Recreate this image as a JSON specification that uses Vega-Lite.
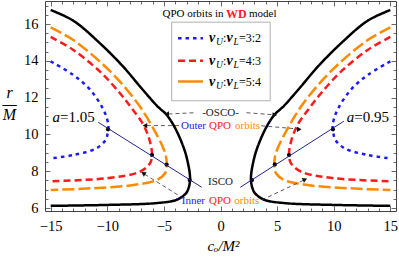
{
 "$schema": "https://vega.github.io/schema/vega-lite/v6.json",
 "width": 351, "height": 210,
 "autosize": {"type": "none"},
 "padding": {"left": 45, "top": 1, "right": 3, "bottom": 48},
 "background": "white",
 "config": {"view": {"stroke": "#444", "strokeWidth": 1}, "font": "Liberation Serif", "axis": {"labelFont": "Liberation Serif", "titleFont": "Liberation Serif"}},
 "datasets": {
  "curves": [
   {"c":"b","s":"L","i":0,"x":-15,"y":16.76},{"c":"b","s":"L","i":1,"x":-13,"y":16.18},{"c":"b","s":"L","i":2,"x":-10.64,"y":14.95},{"c":"b","s":"L","i":3,"x":-8.59,"y":13.68},{"c":"b","s":"L","i":4,"x":-7.1,"y":12.6},{"c":"b","s":"L","i":5,"x":-5.6,"y":11.55},{"c":"b","s":"L","i":6,"x":-4.75,"y":11.06},{"c":"b","s":"L","i":7,"x":-4.1,"y":10.45},{"c":"b","s":"L","i":8,"x":-3.58,"y":9.79},{"c":"b","s":"L","i":9,"x":-3.1,"y":9.0},{"c":"b","s":"L","i":10,"x":-2.84,"y":8.34},{"c":"b","s":"L","i":11,"x":-2.72,"y":7.9},{"c":"b","s":"L","i":12,"x":-2.69,"y":7.52},{"c":"b","s":"L","i":13,"x":-2.8,"y":7.12},{"c":"b","s":"L","i":14,"x":-3.05,"y":6.8},{"c":"b","s":"L","i":15,"x":-3.87,"y":6.45},{"c":"b","s":"L","i":16,"x":-5.64,"y":6.27},{"c":"b","s":"L","i":17,"x":-10.05,"y":6.17},{"c":"b","s":"L","i":18,"x":-15,"y":6.12},
   {"c":"b","s":"R","i":0,"x":15,"y":16.76},{"c":"b","s":"R","i":1,"x":13,"y":16.18},{"c":"b","s":"R","i":2,"x":10.64,"y":14.95},{"c":"b","s":"R","i":3,"x":8.59,"y":13.68},{"c":"b","s":"R","i":4,"x":7.1,"y":12.6},{"c":"b","s":"R","i":5,"x":5.6,"y":11.55},{"c":"b","s":"R","i":6,"x":4.75,"y":11.06},{"c":"b","s":"R","i":7,"x":4.1,"y":10.45},{"c":"b","s":"R","i":8,"x":3.58,"y":9.79},{"c":"b","s":"R","i":9,"x":3.1,"y":9.0},{"c":"b","s":"R","i":10,"x":2.84,"y":8.34},{"c":"b","s":"R","i":11,"x":2.72,"y":7.9},{"c":"b","s":"R","i":12,"x":2.69,"y":7.52},{"c":"b","s":"R","i":13,"x":2.8,"y":7.12},{"c":"b","s":"R","i":14,"x":3.05,"y":6.8},{"c":"b","s":"R","i":15,"x":3.87,"y":6.45},{"c":"b","s":"R","i":16,"x":5.64,"y":6.27},{"c":"b","s":"R","i":17,"x":10.05,"y":6.17},{"c":"b","s":"R","i":18,"x":15,"y":6.12},
   {"c":"54","s":"L","i":0,"x":-15,"y":15.82},{"c":"54","s":"L","i":1,"x":-13,"y":15.13},{"c":"54","s":"L","i":2,"x":-10.64,"y":13.95},{"c":"54","s":"L","i":3,"x":-8.88,"y":12.87},{"c":"54","s":"L","i":4,"x":-7.1,"y":11.5},{"c":"54","s":"L","i":5,"x":-5.94,"y":10.33},{"c":"54","s":"L","i":6,"x":-5.05,"y":9.25},{"c":"54","s":"L","i":7,"x":-4.8,"y":8.75},{"c":"54","s":"L","i":8,"x":-4.75,"y":8.34},{"c":"54","s":"L","i":9,"x":-4.9,"y":7.89},{"c":"54","s":"L","i":10,"x":-5.64,"y":7.52},{"c":"54","s":"L","i":11,"x":-7.7,"y":7.25},{"c":"54","s":"L","i":12,"x":-11.5,"y":7.07},{"c":"54","s":"L","i":13,"x":-15,"y":6.98},
   {"c":"54","s":"R","i":0,"x":15,"y":15.82},{"c":"54","s":"R","i":1,"x":13,"y":15.13},{"c":"54","s":"R","i":2,"x":10.64,"y":13.95},{"c":"54","s":"R","i":3,"x":8.88,"y":12.87},{"c":"54","s":"R","i":4,"x":7.1,"y":11.5},{"c":"54","s":"R","i":5,"x":5.94,"y":10.33},{"c":"54","s":"R","i":6,"x":5.05,"y":9.25},{"c":"54","s":"R","i":7,"x":4.8,"y":8.75},{"c":"54","s":"R","i":8,"x":4.75,"y":8.34},{"c":"54","s":"R","i":9,"x":4.9,"y":7.89},{"c":"54","s":"R","i":10,"x":5.64,"y":7.52},{"c":"54","s":"R","i":11,"x":7.7,"y":7.25},{"c":"54","s":"R","i":12,"x":11.5,"y":7.07},{"c":"54","s":"R","i":13,"x":15,"y":6.98},
   {"c":"43","s":"L","i":0,"x":-15,"y":15.3},{"c":"43","s":"L","i":1,"x":-13,"y":14.59},{"c":"43","s":"L","i":2,"x":-10.64,"y":13.41},{"c":"43","s":"L","i":3,"x":-8.88,"y":12.24},{"c":"43","s":"L","i":4,"x":-7.84,"y":11.42},{"c":"43","s":"L","i":5,"x":-6.8,"y":10.51},{"c":"43","s":"L","i":6,"x":-6.23,"y":9.61},{"c":"43","s":"L","i":7,"x":-6.05,"y":8.88},{"c":"43","s":"L","i":8,"x":-6.23,"y":8.43},{"c":"43","s":"L","i":9,"x":-7.1,"y":7.98},{"c":"43","s":"L","i":10,"x":-10.05,"y":7.62},{"c":"43","s":"L","i":11,"x":-15,"y":7.46},
   {"c":"43","s":"R","i":0,"x":15,"y":15.3},{"c":"43","s":"R","i":1,"x":13,"y":14.59},{"c":"43","s":"R","i":2,"x":10.64,"y":13.41},{"c":"43","s":"R","i":3,"x":8.88,"y":12.24},{"c":"43","s":"R","i":4,"x":7.84,"y":11.42},{"c":"43","s":"R","i":5,"x":6.8,"y":10.51},{"c":"43","s":"R","i":6,"x":6.23,"y":9.61},{"c":"43","s":"R","i":7,"x":6.05,"y":8.88},{"c":"43","s":"R","i":8,"x":6.23,"y":8.43},{"c":"43","s":"R","i":9,"x":7.1,"y":7.98},{"c":"43","s":"R","i":10,"x":10.05,"y":7.62},{"c":"43","s":"R","i":11,"x":15,"y":7.46},
   {"c":"32","s":"L","i":0,"x":-15,"y":13.97},{"c":"32","s":"L","i":1,"x":-13,"y":13.23},{"c":"32","s":"L","i":2,"x":-11.5,"y":12.42},{"c":"32","s":"L","i":3,"x":-10.4,"y":11.42},{"c":"32","s":"L","i":4,"x":-10.0,"y":10.8},{"c":"32","s":"L","i":5,"x":-9.9,"y":10.4},{"c":"32","s":"L","i":6,"x":-9.97,"y":10.05},{"c":"32","s":"L","i":7,"x":-10.15,"y":9.7},{"c":"32","s":"L","i":8,"x":-10.94,"y":9.25},{"c":"32","s":"L","i":9,"x":-13,"y":8.88},{"c":"32","s":"L","i":10,"x":-15,"y":8.7},
   {"c":"32","s":"R","i":0,"x":15,"y":13.97},{"c":"32","s":"R","i":1,"x":13,"y":13.23},{"c":"32","s":"R","i":2,"x":11.5,"y":12.42},{"c":"32","s":"R","i":3,"x":10.4,"y":11.42},{"c":"32","s":"R","i":4,"x":10.0,"y":10.8},{"c":"32","s":"R","i":5,"x":9.9,"y":10.4},{"c":"32","s":"R","i":6,"x":9.97,"y":10.05},{"c":"32","s":"R","i":7,"x":10.15,"y":9.7},{"c":"32","s":"R","i":8,"x":10.94,"y":9.25},{"c":"32","s":"R","i":9,"x":13,"y":8.88},{"c":"32","s":"R","i":10,"x":15,"y":8.7}
  ],
  "alines": [{"s":"L","x":-10.8,"y":10.66},{"s":"L","x":-1.66,"y":7.13},{"s":"R","x":1.75,"y":7.13},{"s":"R","x":10.9,"y":10.72}],
  "dots": [{"x":-9.93,"y":10.28},{"x":-6.05,"y":8.88},{"x":-4.76,"y":8.36},{"x":-2.72,"y":7.52},{"x":9.93,"y":10.28},{"x":6.05,"y":8.88},{"x":4.8,"y":8.37},{"x":2.78,"y":7.52}],
  "arrows": [
   {"a":"oL","x":-2.3,"y":11.18},{"a":"oL","x":-4.6,"y":11.11},
   {"a":"oR","x":2.3,"y":11.18},{"a":"oR","x":4.65,"y":11.07},
   {"a":"uL","x":-3.55,"y":10.48},{"a":"uL","x":-6.5,"y":10.48},
   {"a":"uR","x":3.6,"y":10.47},{"a":"uR","x":6.8,"y":10.3},
   {"a":"iL","x":-3.29,"y":6.53},{"a":"iL","x":-6.7,"y":7.84},
   {"a":"iR","x":3.64,"y":6.44},{"a":"iR","x":7.3,"y":7.5}
  ],
  "headsL": [{"x":-4.75,"y":11.11},{"x":-6.67,"y":10.48}],
  "headsR": [{"x":4.8,"y":11.06},{"x":6.96,"y":10.28}],
  "headIL": [{"x":-6.82,"y":7.89}],
  "headIR": [{"x":7.46,"y":7.56}],
  "box": [{"x":-4.31,"x2":4.39,"y":16.1,"y2":11.83}],
  "legend": [{"r":"L32","y":15.23,"lab":"=3:2"},{"r":"L43","y":14.01,"lab":"=4:3"},{"r":"L54","y":12.87,"lab":"=5:4"}],
  "tBlue": [{"t":"Outer","x":-1.28,"y":10.48},{"t":"Inner","x":-1.37,"y":6.4}],
  "tRed": [{"t":"QPO","x":-0.05,"y":10.48},{"t":"QPO","x":-0.04,"y":6.4}],
  "tOrange": [{"t":"orbits","x":1.28,"y":10.48},{"t":"orbits","x":1.22,"y":6.4}],
  "tBlack": [{"t":"-OSCO-","x":0,"y":11.18},{"t":"ISCO","x":0,"y":7.4}],
  "aItalic": [{"t":"a","x":-14.18,"y":10.97},{"t":"a","x":11.81,"y":10.97}],
  "aRest": [{"t":"=1.05","x":-14.18,"y":10.97},{"t":"=0.95","x":11.81,"y":10.97}],
  "title1": [{"t":"QPO orbits in","x":0.27,"y":16.55}],
  "title2": [{"t":"WD","x":0.49,"y":16.55}],
  "title3": [{"t":"model","x":2.52,"y":16.55}]
 },
 "layer": [
  {
   "data": {"name": "curves"},
   "mark": {"type": "line", "interpolate": "catmull-rom", "strokeWidth": 2.5, "strokeCap": "butt"},
   "encoding": {
    "x": {"field": "x", "type": "quantitative", "scale": {"domain": [-15.5, 15.5], "nice": false, "zero": false},
     "axis": {"orient": "bottom", "values": [-15,-14,-13,-12,-11,-10,-9,-8,-7,-6,-5,-4,-3,-2,-1,0,1,2,3,4,5,6,7,8,9,10,11,12,13,14,15],
      "labelExpr": "datum.value % 5 == 0 ? replace(format(datum.value, 'd'), '-', '−') : ''",
      "tickSize": {"condition": {"test": "datum.value % 5 == 0", "value": -5}, "value": -3},
      "tickColor": "#444", "tickWidth": 0.8, "domain": false, "grid": false,
      "labelFont": "Liberation Serif", "labelFontSize": 14.5, "labelColor": "black", "labelPadding": 13,
      "labelOverlap": false, "labelFlush": false,
      "title": "cₒ/M²", "titleFont": "Liberation Serif", "titleFontStyle": "italic", "titleFontWeight": "normal", "titleFontSize": 15, "titleColor": "black",
      "titleX": 178, "titleY": 39, "titleBaseline": "alphabetic", "titleAlign": "center"}},
    "y": {"field": "y", "type": "quantitative", "scale": {"domain": [5.84, 17.25], "nice": false, "zero": false},
     "axis": {"orient": "left", "values": [6,6.5,7,7.5,8,8.5,9,9.5,10,10.5,11,11.5,12,12.5,13,13.5,14,14.5,15,15.5,16,16.5,17],
      "labelExpr": "datum.value % 2 == 0 ? format(datum.value, 'd') : ''",
      "tickSize": {"condition": {"test": "datum.value % 2 == 0", "value": -5}, "value": -3},
      "tickColor": "#444", "tickWidth": 0.8, "domain": false, "grid": false,
      "labelFont": "Liberation Serif", "labelFontSize": 14.5, "labelColor": "black", "labelPadding": 12, "labelOverlap": false, "labelFlush": false,
      "title": ["r", "—", "M"], "titleFont": "Liberation Serif", "titleFontStyle": "italic", "titleFontWeight": "normal", "titleFontSize": 16, "titleColor": "black",
      "titleAngle": 0, "titleX": -36, "titleY": 96, "titleAlign": "center", "titleBaseline": "alphabetic", "titleLineHeight": 11}},
    "color": {"field": "c", "type": "nominal", "legend": null,
     "scale": {"domain": ["b","32","43","54","L32","L43","L54"], "range": ["#000000","#1a1aff","#ff1a1a","#ff8a00","#1a1aff","#ff1a1a","#ff8a00"]}},
    "strokeDash": {"field": "c", "type": "nominal", "legend": null,
     "scale": {"domain": ["b","32","43","54","L32","L43","L54"], "range": [[1,0],[3.5,4],[7,4],[12,4],[3.5,4],[7,4],[1,0]]}},
    "detail": {"field": "s"},
    "order": {"field": "i", "type": "quantitative"}
   }
  },
  {
   "data": {"name": "dots"},
   "mark": {"type": "point", "filled": true, "color": "black", "size": 18, "opacity": 1},
   "encoding": {
    "x": {"field": "x", "type": "quantitative",
     "axis": {"orient": "top", "values": [-15,-14,-13,-12,-11,-10,-9,-8,-7,-6,-5,-4,-3,-2,-1,0,1,2,3,4,5,6,7,8,9,10,11,12,13,14,15],
      "labels": false, "title": null, "domain": false, "grid": false, "tickColor": "#444", "tickWidth": 0.8,
      "tickSize": {"condition": {"test": "datum.value % 5 == 0", "value": -5}, "value": -3}}},
    "y": {"field": "y", "type": "quantitative",
     "axis": {"orient": "right", "values": [6,6.5,7,7.5,8,8.5,9,9.5,10,10.5,11,11.5,12,12.5,13,13.5,14,14.5,15,15.5,16,16.5,17],
      "labels": false, "title": null, "domain": false, "grid": false, "tickColor": "#444", "tickWidth": 0.8,
      "tickSize": {"condition": {"test": "datum.value % 2 == 0", "value": -5}, "value": -3}}}
   }
  },
  {
   "data": {"name": "alines"},
   "mark": {"type": "line", "color": "#23238e", "strokeWidth": 1},
   "encoding": {"x": {"field": "x", "type": "quantitative", "axis": null}, "y": {"field": "y", "type": "quantitative", "axis": null}, "detail": {"field": "s"}}
  },
  {
   "data": {"name": "arrows"},
   "mark": {"type": "line", "color": "#333", "strokeWidth": 0.8, "strokeDash": [4, 3]},
   "encoding": {"x": {"field": "x", "type": "quantitative", "axis": null}, "y": {"field": "y", "type": "quantitative", "axis": null}, "detail": {"field": "a"}}
  },
  {
   "data": {"name": "headsL"},
   "mark": {"type": "point", "shape": "triangle-left", "filled": true, "color": "#111", "size": 28, "opacity": 1},
   "encoding": {"x": {"field": "x", "type": "quantitative", "axis": null}, "y": {"field": "y", "type": "quantitative", "axis": null}}
  },
  {
   "data": {"name": "headsR"},
   "mark": {"type": "point", "shape": "triangle-right", "filled": true, "color": "#111", "size": 28, "opacity": 1},
   "encoding": {"x": {"field": "x", "type": "quantitative", "axis": null}, "y": {"field": "y", "type": "quantitative", "axis": null}}
  },
  {
   "data": {"name": "headIL"},
   "mark": {"type": "point", "shape": "triangle-left", "filled": true, "color": "#111", "size": 28, "opacity": 1, "angle": 32},
   "encoding": {"x": {"field": "x", "type": "quantitative", "axis": null}, "y": {"field": "y", "type": "quantitative", "axis": null}}
  },
  {
   "data": {"name": "headIR"},
   "mark": {"type": "point", "shape": "triangle-right", "filled": true, "color": "#111", "size": 28, "opacity": 1, "angle": -25},
   "encoding": {"x": {"field": "x", "type": "quantitative", "axis": null}, "y": {"field": "y", "type": "quantitative", "axis": null}}
  },
  {
   "data": {"name": "box"},
   "mark": {"type": "rect", "fill": "white", "stroke": "#b0b0b0", "strokeWidth": 1},
   "encoding": {"x": {"field": "x", "type": "quantitative", "axis": null}, "x2": {"field": "x2"}, "y": {"field": "y", "type": "quantitative", "axis": null}, "y2": {"field": "y2"}}
  },
  {
   "data": {"name": "legend"},
   "mark": {"type": "rule", "strokeWidth": 2.5, "strokeCap": "butt"},
   "encoding": {
    "x": {"datum": -3.75, "type": "quantitative", "axis": null}, "x2": {"datum": -1.55},
    "y": {"field": "y", "type": "quantitative", "axis": null},
    "color": {"field": "r", "type": "nominal", "legend": null},
    "strokeDash": {"field": "r", "type": "nominal", "legend": null}
   }
  },
  {
   "data": {"name": "legend"},
   "mark": {"type": "text", "text": "ν", "font": "Liberation Serif", "fontSize": 14, "fontStyle": "italic", "fontWeight": "bold", "align": "left", "baseline": "middle", "color": "black"},
   "encoding": {"x": {"datum": -1.016, "type": "quantitative", "axis": null}, "y": {"field": "y", "type": "quantitative", "axis": null}}
  },
  {
   "data": {"name": "legend"},
   "mark": {"type": "text", "text": "U", "font": "Liberation Serif", "fontSize": 9.5, "fontStyle": "italic", "align": "left", "baseline": "middle", "dy": 4, "color": "black"},
   "encoding": {"x": {"datum": -0.398, "type": "quantitative", "axis": null}, "y": {"field": "y", "type": "quantitative", "axis": null}}
  },
  {
   "data": {"name": "legend"},
   "mark": {"type": "text", "text": ":", "font": "Liberation Serif", "fontSize": 12, "align": "left", "baseline": "middle", "color": "black"},
   "encoding": {"x": {"datum": 0.221, "type": "quantitative", "axis": null}, "y": {"field": "y", "type": "quantitative", "axis": null}}
  },
  {
   "data": {"name": "legend"},
   "mark": {"type": "text", "text": "ν", "font": "Liberation Serif", "fontSize": 14, "fontStyle": "italic", "fontWeight": "bold", "align": "left", "baseline": "middle", "color": "black"},
   "encoding": {"x": {"datum": 0.53, "type": "quantitative", "axis": null}, "y": {"field": "y", "type": "quantitative", "axis": null}}
  },
  {
   "data": {"name": "legend"},
   "mark": {"type": "text", "text": "L", "font": "Liberation Serif", "fontSize": 9.5, "fontStyle": "italic", "align": "left", "baseline": "middle", "dy": 4, "color": "black"},
   "encoding": {"x": {"datum": 1.148, "type": "quantitative", "axis": null}, "y": {"field": "y", "type": "quantitative", "axis": null}}
  },
  {
   "data": {"name": "legend"},
   "mark": {"type": "text", "font": "Liberation Serif", "fontSize": 12, "align": "left", "baseline": "middle", "color": "black"},
   "encoding": {"x": {"datum": 1.634, "type": "quantitative", "axis": null}, "y": {"field": "y", "type": "quantitative", "axis": null}, "text": {"field": "lab"}}
  },
  {
   "data": {"name": "tBlue"},
   "mark": {"type": "text", "font": "Liberation Serif", "fontSize": 11, "align": "right", "baseline": "middle", "color": "#2020ff"},
   "encoding": {"x": {"field": "x", "type": "quantitative", "axis": null}, "y": {"field": "y", "type": "quantitative", "axis": null}, "text": {"field": "t"}}
  },
  {
   "data": {"name": "tRed"},
   "mark": {"type": "text", "font": "Liberation Serif", "fontSize": 11, "align": "center", "baseline": "middle", "color": "#ff1a1a"},
   "encoding": {"x": {"field": "x", "type": "quantitative", "axis": null}, "y": {"field": "y", "type": "quantitative", "axis": null}, "text": {"field": "t"}}
  },
  {
   "data": {"name": "tOrange"},
   "mark": {"type": "text", "font": "Liberation Serif", "fontSize": 11, "align": "left", "baseline": "middle", "color": "#ff8a00"},
   "encoding": {"x": {"field": "x", "type": "quantitative", "axis": null}, "y": {"field": "y", "type": "quantitative", "axis": null}, "text": {"field": "t"}}
  },
  {
   "data": {"name": "tBlack"},
   "mark": {"type": "text", "font": "Liberation Serif", "fontSize": 11, "align": "center", "baseline": "middle", "color": "#222"},
   "encoding": {"x": {"field": "x", "type": "quantitative", "axis": null}, "y": {"field": "y", "type": "quantitative", "axis": null}, "text": {"field": "t"}}
  },
  {
   "data": {"name": "aItalic"},
   "mark": {"type": "text", "font": "Liberation Serif", "fontSize": 15, "fontStyle": "italic", "align": "right", "baseline": "middle", "color": "black"},
   "encoding": {"x": {"field": "x", "type": "quantitative", "axis": null}, "y": {"field": "y", "type": "quantitative", "axis": null}, "text": {"field": "t"}}
  },
  {
   "data": {"name": "aRest"},
   "mark": {"type": "text", "font": "Liberation Serif", "fontSize": 15, "align": "left", "baseline": "middle", "color": "black"},
   "encoding": {"x": {"field": "x", "type": "quantitative", "axis": null}, "y": {"field": "y", "type": "quantitative", "axis": null}, "text": {"field": "t"}}
  },
  {
   "data": {"name": "title1"},
   "mark": {"type": "text", "font": "Liberation Serif", "fontSize": 11, "align": "right", "baseline": "middle", "color": "black"},
   "encoding": {"x": {"field": "x", "type": "quantitative", "axis": null}, "y": {"field": "y", "type": "quantitative", "axis": null}, "text": {"field": "t"}}
  },
  {
   "data": {"name": "title2"},
   "mark": {"type": "text", "font": "Liberation Serif", "fontSize": 12, "fontWeight": "bold", "align": "left", "baseline": "middle", "color": "#ff1a1a"},
   "encoding": {"x": {"field": "x", "type": "quantitative", "axis": null}, "y": {"field": "y", "type": "quantitative", "axis": null}, "text": {"field": "t"}}
  },
  {
   "data": {"name": "title3"},
   "mark": {"type": "text", "font": "Liberation Serif", "fontSize": 11, "align": "left", "baseline": "middle", "color": "black"},
   "encoding": {"x": {"field": "x", "type": "quantitative", "axis": null}, "y": {"field": "y", "type": "quantitative", "axis": null}, "text": {"field": "t"}}
  }
 ],
 "resolve": {"axis": {"x": "independent", "y": "independent"}}
}
